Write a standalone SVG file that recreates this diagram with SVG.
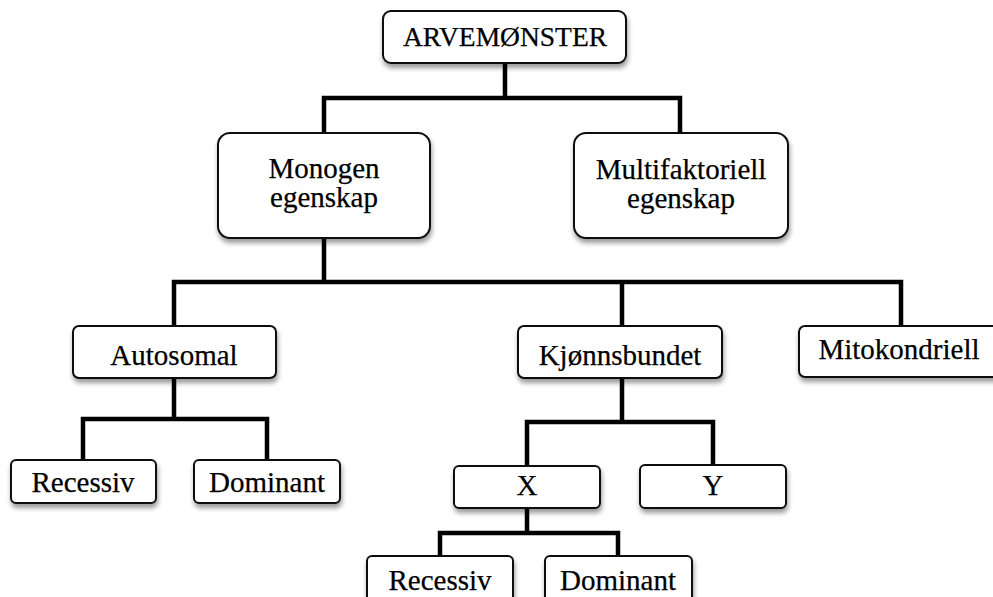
<svg xmlns="http://www.w3.org/2000/svg" width="993" height="597" viewBox="0 0 993 597">
  <defs>
    <filter id="shadow" x="-10%" y="-20%" width="120%" height="150%">
      <feDropShadow dx="1" dy="4" stdDeviation="2.5" flood-color="#000" flood-opacity="0.4"/>
    </filter>
  </defs>
  <style>
    .box { fill: #fff; stroke: #111; stroke-width: 2; filter: url(#shadow); }
    .lbl { font-family: "Liberation Serif", "DejaVu Serif", serif; font-size: 29px; fill: #000; stroke: #000; stroke-width: 0.25; text-anchor: middle; }
    .conn { fill: none; stroke: #000; stroke-width: 4.5; stroke-linejoin: miter; stroke-linecap: square; }
  </style>
  <rect width="993" height="597" fill="#fff"/>

  <!-- connectors -->
  <g id="connectors" class="conn">
    <path d="M505 63 V98 M324 98 H680 M324 98 V133 M680 98 V133"/>
    <path d="M324 238 V282 M174 282 H901 M174 282 V326 M622 282 V326 M901 282 V326"/>
    <path d="M174 378 V419 M83 419 H267 M83 419 V460 M267 419 V460"/>
    <path d="M622 378 V422 M527 422 H713 M527 422 V466 M713 422 V465"/>
    <path d="M527 508 V533 M440 533 H618 M440 533 V556 M618 533 V556"/>
  </g>

  <g id="arvemonster">
    <rect class="box" x="383" y="11" width="243" height="52" rx="8"/>
    <text class="lbl" x="505" y="46" style="font-size:27.5px">ARVEMØNSTER</text>
  </g>

  <g id="monogen">
    <rect class="box" x="218" y="133" width="212" height="105" rx="12"/>
    <text class="lbl" x="324" y="178">Monogen</text>
    <text class="lbl" x="324" y="207">egenskap</text>
  </g>

  <g id="multifaktoriell">
    <rect class="box" x="574" y="133" width="214" height="105" rx="12"/>
    <text class="lbl" x="681" y="179">Multifaktoriell</text>
    <text class="lbl" x="681" y="208">egenskap</text>
  </g>

  <g id="autosomal">
    <rect class="box" x="73" y="326" width="203" height="52" rx="6"/>
    <text class="lbl" x="174" y="365">Autosomal</text>
  </g>

  <g id="kjonnsbundet">
    <rect class="box" x="518" y="326" width="204" height="52" rx="6"/>
    <text class="lbl" x="620" y="365">Kjønnsbundet</text>
  </g>

  <g id="mitokondriell">
    <rect class="box" x="799" y="326" width="210" height="51" rx="6"/>
    <text class="lbl" x="899" y="359">Mitokondriell</text>
  </g>

  <g id="recessiv-autosomal">
    <rect class="box" x="11" y="460" width="145" height="43" rx="5"/>
    <text class="lbl" x="83" y="492">Recessiv</text>
  </g>

  <g id="dominant-autosomal">
    <rect class="box" x="194" y="460" width="146" height="43" rx="5"/>
    <text class="lbl" x="267" y="492">Dominant</text>
  </g>

  <g id="x">
    <rect class="box" x="454" y="466" width="146" height="42" rx="5"/>
    <text class="lbl" x="527" y="495">X</text>
  </g>

  <g id="y">
    <rect class="box" x="640" y="465" width="146" height="43" rx="5"/>
    <text class="lbl" x="713" y="495">Y</text>
  </g>

  <g id="recessiv-x">
    <rect class="box" x="367" y="556" width="146" height="60" rx="5"/>
    <text class="lbl" x="440" y="590">Recessiv</text>
  </g>

  <g id="dominant-x">
    <rect class="box" x="545" y="556" width="147" height="60" rx="5"/>
    <text class="lbl" x="618" y="590">Dominant</text>
  </g>
</svg>
